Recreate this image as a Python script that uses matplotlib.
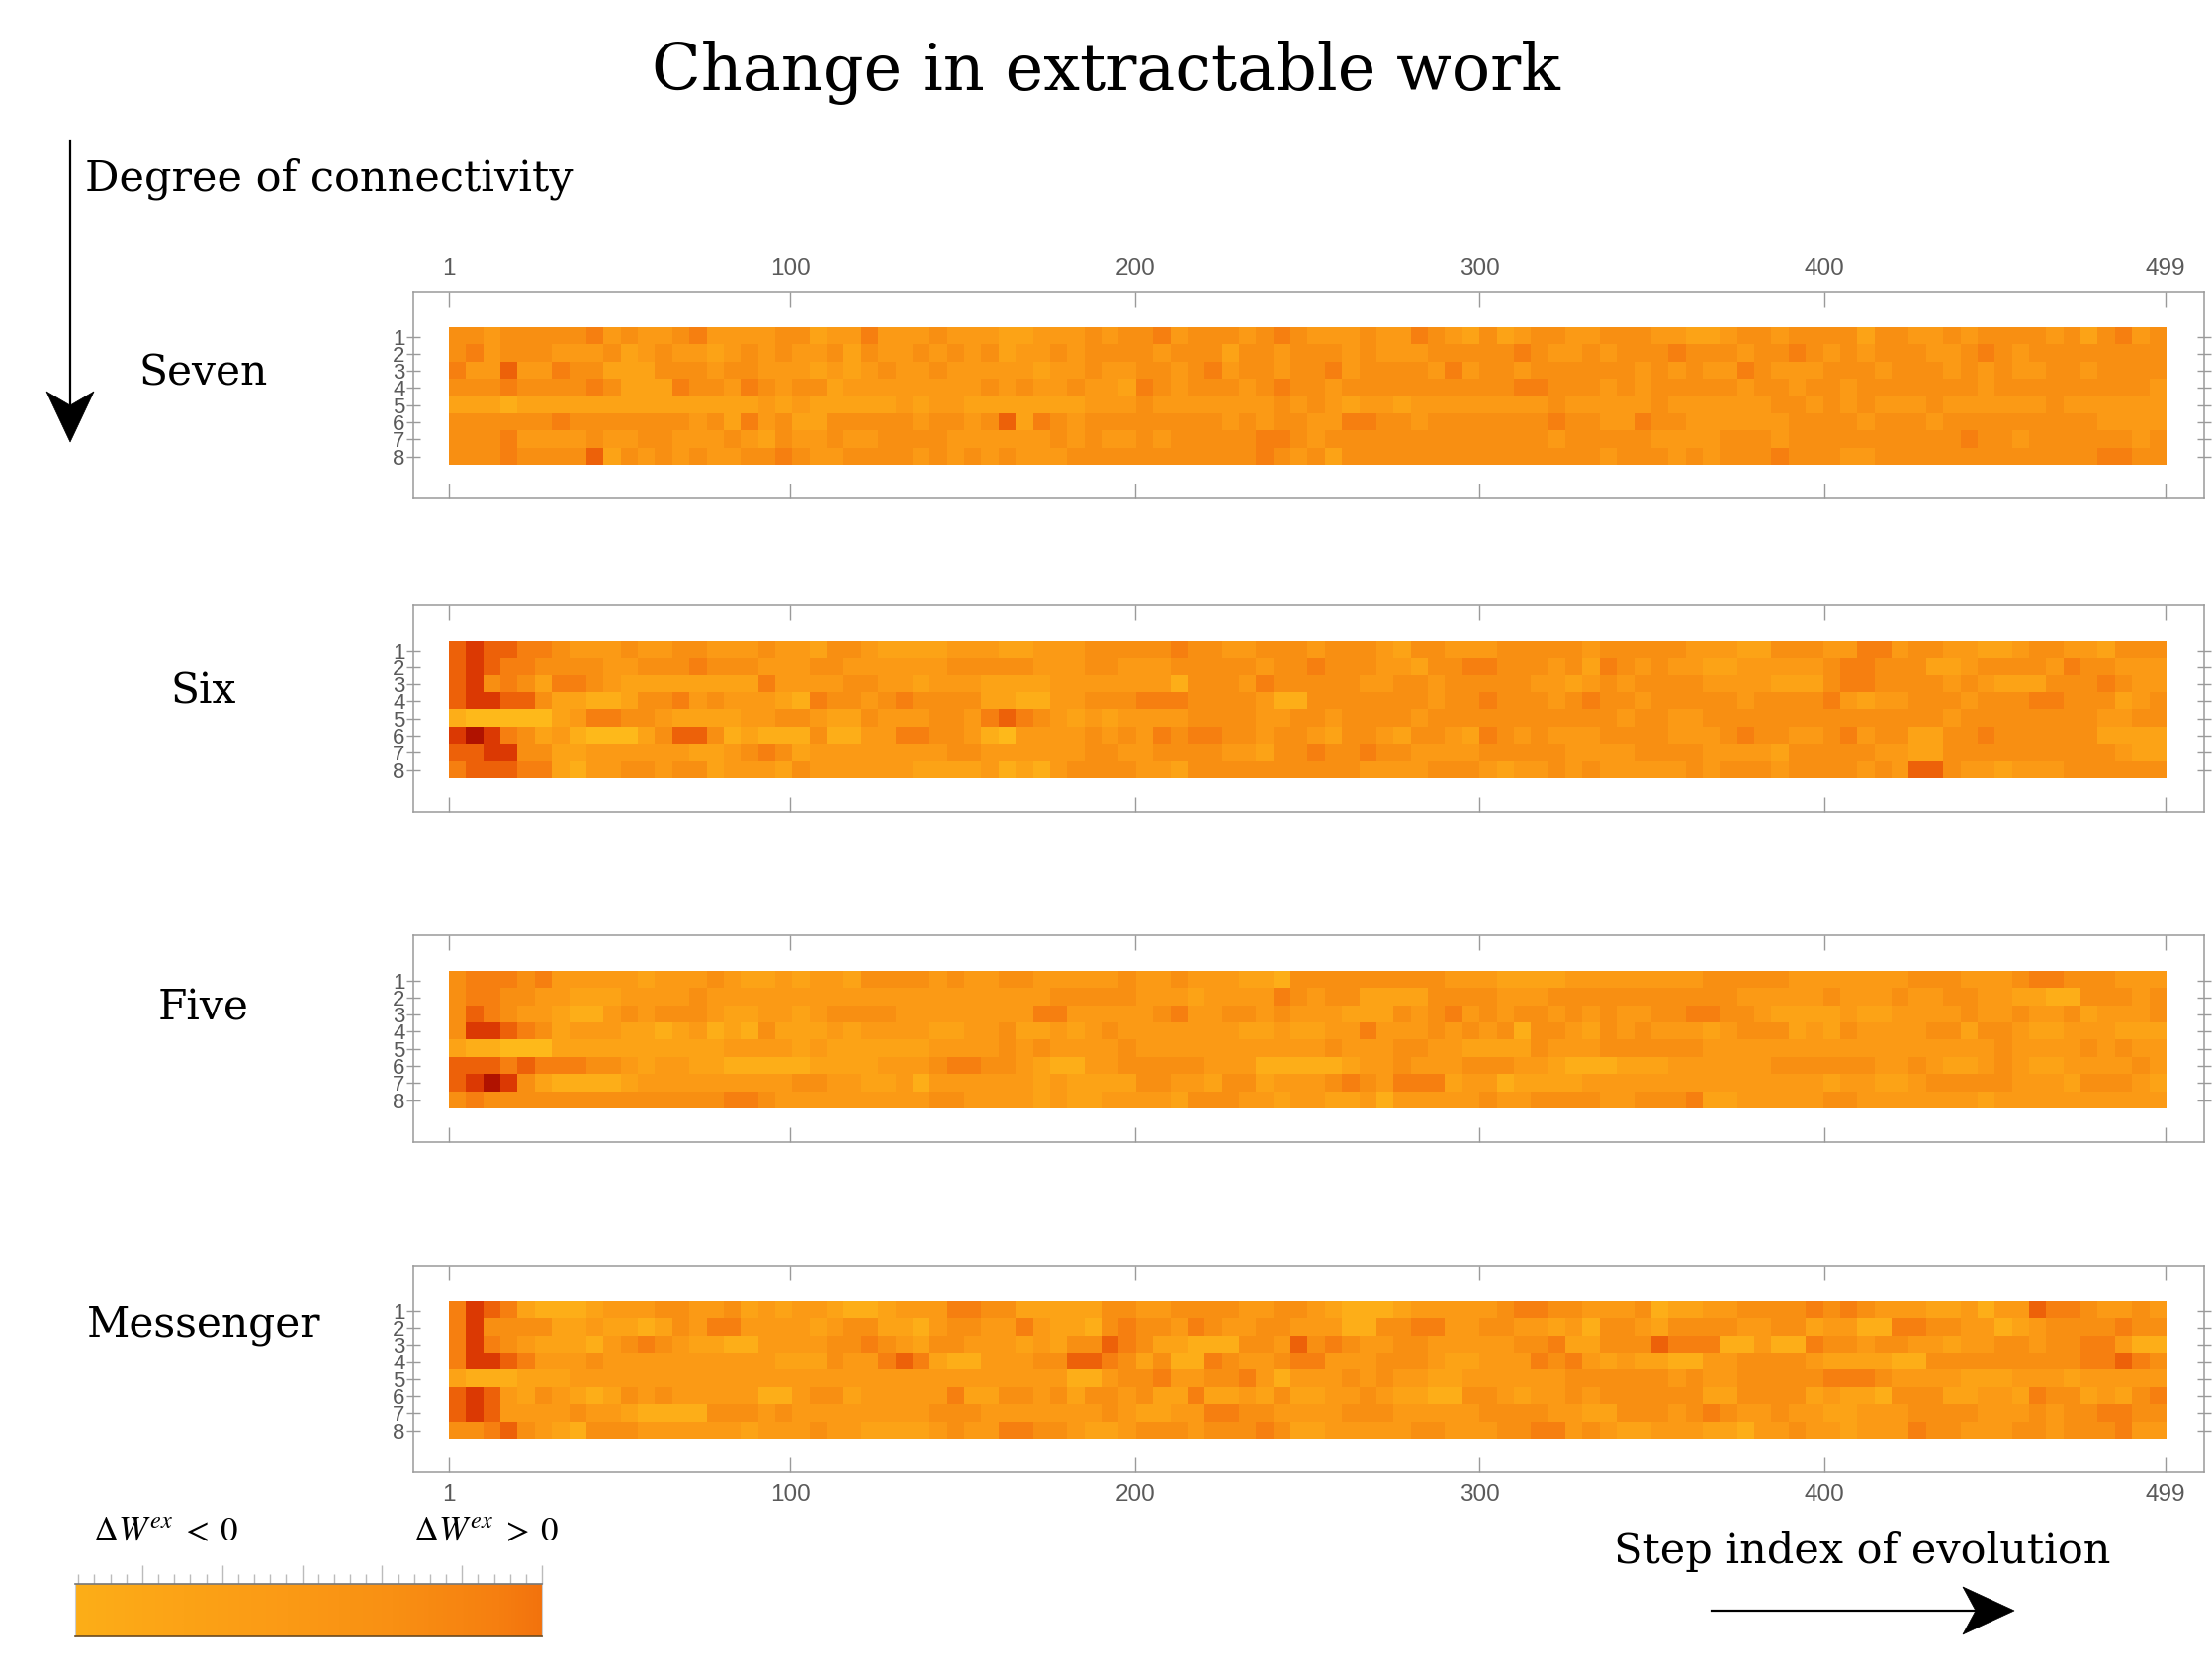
import numpy as np
import matplotlib
matplotlib.use("Agg")
import matplotlib.pyplot as plt
from matplotlib.colors import LinearSegmentedColormap
from matplotlib.patches import Polygon
from matplotlib.lines import Line2D

# ---------------- data (intensity levels 0..9) ----------------
panel_names = ["Seven", "Six", "Five", "Messenger"]
row_labels = [1, 2, 3, 4, 5, 6, 7, 8]
step_ticks = [1, 100, 200, 300, 400, 499]
n_steps_first, n_steps_last = 1, 499

seven = [
    "5545555564 5445644445 5344644454 4433444" + "5455645554 5654445446 5435345544 5554433455 4555535544 5455554535 645",
    "5645554445 3454434545 4453544545 4534454" + "5555455535 5455545444 5555565445 4555655545 5654545554 4565455555 555",
    "6447446553 3355545544 4343454454 4444344" + "5445545645 5455645555 4645545555 5545454465 4445554555 4545445545 555",
    "5556555565 3336554654 5534444444 4545445" + "4436545554 5655455555 5555566555 4545555545 5455455555 5545555555 554",
    "3332333333 3333333343 4333334344 3333333" + "4445444444 4545434434 4444444544 4445444444 5545454445 4444445444 444",
    "5555556555 5555453645 3355555455 4573654" + "5555555545 4554466554 5555555655 4465544444 4555545554 5555555554 444",
    "5556444454 4554445435 4454455554 4444454" + "5445455555 6654555555 5555555455 5554444555 4555555555 5655455555 545",
    "5556555573 5454544556 5445555454 5454445" + "5555555555 6545355555 5555555555 4555454555 6555445555 5555555556 655",
]
six = [
    "7877665444 5445544454 4355433334 4433444" + "5555565544 5554555435 5444555554 5555544433 5554466455 4433455443 555",
    "7876655554 4555655544 4554444445 5555444" + "5544455555 4556555443 5566555453 6545443344 4445665553 3455554655 444",
    "7856536654 3333333364 4445544344 4333344" + "4444425554 6555554455 4555554434 5455554444 3335665555 4543335556 544",
    "7887753322 3556454443 2655456555 5332244" + "5556665555 4225555555 4556555456 5545555545 5556434455 5455566555 345",
    "2111113466 5543333445 5433544455 4676543" + "4344445555 4455455554 5555555555 5455445555 5555555555 4555555554 455",
    "8986534211 1357752322 2522446655 4214444" + "5454656655 4554355435 5436545444 5555444565 5445645533 5565555553 333",
    "7788553344 4444334565 3444444445 5444444" + "5544555544 3556556554 4445555544 4455554444 3555554433 5555555555 433",
    "6777663244 5545534443 5444444333 3423245" + "5554435555 5555554444 5554344545 4444454555 4555545477 5443444555 555",
]
five = [
    "5666564444 4344454334 34435555" + "4544554444 4544544433 2555555555 4443333444 4444455555 4444444555 4445665554 44",
    "5665544333 4444544444 44444444" + "4444444555 5544434444 6545533335 5554445555 5555555444 4454445445 5443322555 45",
    "5765443224 5455543344 34555544" + "4444446644 4445644554 5444333545 6454554545 4455665543 3334334444 5445445344 45",
    "5887653444 3323423253 33434444" + "3344533434 5444444433 4334464445 4545255435 4544434555 3435444455 3554334443 33",
    "3221113333 3333334444 34333333" + "4444545444 4544444444 4445444554 4333354445 5555544444 4444444444 4454444545 44",
    "7776766655 4344332222 23333444" + "5665543224 4555554442 2222344544 4555443222 3334444445 5555544543 3454334444 54",
    "7898532222 3444444444 55443342" + "4444443433 3355443553 4445654666 3442333344 4444444444 4434433455 5554443555 43",
    "5655555555 5555556654 44444444" + "5544443433 4444355544 3443342444 4454455554 4555633444 4455444444 4344444444 44",
]
messenger = [
    "6876322234 4455445343 44322344" + "4665533333 5544555544 5543222344 4445665544 4523344555 5656544433 4244766544 54",
    "6855553343 3235466444 43455332" + "4554464332 5655465445 5444225566 4455443425 5435555445 5344226655 4423455556 55",
    "6865433324 5654332244 44556543" + "5544434355 7653322255 4756544554 4444556335 5576662242 2655455443 4455455664 22",
    "6887644454 4444444443 33544676" + "3224445577 6535226544 5664445554 3344465643 4332244555 5433332255 5555555667 65",
    "3222333444 4444444444 44444444" + "4444444422 4556445564 2444545443 3444444555 5554544555 5566654444 3334443444 44",
    "7874354323 5454444422 45534444" + "4633554535 5453363343 5334454332 2554344545 5555533555 5343325553 3443655343 56",
    "7874444544 3222255545 44444444" + "5554444444 5433446655 4444555444 4455554433 5554565445 4433444555 5444545566 55",
    "5567543255 5444444344 45443333" + "4544665543 3455545556 5334444455 4445566454 3344433244 5443444655 4445545556 44",
]
panels = [seven, six, five, messenger]


def to_array(rows):
    arr = []
    for r in rows:
        s = r.replace(" ", "")
        if len(s) != 100:
            raise ValueError(f"row length {len(s)}: {r}")
        arr.append([int(c) for c in s])
    return np.array(arr, dtype=float) / 9.0


# ---------------- style ----------------
W, H = 2237, 1691
fig = plt.figure(figsize=(W / 100, H / 100), dpi=100)
fig.patch.set_facecolor("white")
plt.rcParams["mathtext.fontset"] = "stix"

cmap = LinearSegmentedColormap.from_list(
    "solar",
    ["#FFC21E", "#FEB91A", "#FDAE18", "#FCA316", "#FB9A15",
     "#F99013", "#F67F10", "#EE620A", "#DC3A04", "#B01200"])

serif = "DejaVu Serif"
sans = "Liberation Sans"
frame_col = "#9a9a9a"
tick_col = "#5a5a5a"


def fx(px):
    return px / W


def fy(py):
    return 1 - py / H


axes_tops = [295, 612, 946, 1280]
ax_left, ax_right = 418, 2229
ax_h = 209
label_y = [378, 700, 1019, 1340]

for i, (rows, name) in enumerate(zip(panels, panel_names)):
    data = to_array(rows)
    top = axes_tops[i]
    ax = fig.add_axes([fx(ax_left), fy(top + ax_h), fx(ax_right) - fx(ax_left), ax_h / H])
    ax.imshow(data, cmap=cmap, vmin=0, vmax=1, aspect="auto",
              extent=(n_steps_first, n_steps_last, 8.5, 0.5), interpolation="nearest")
    ax.set_xlim(-9.3, 510.2)
    ax.set_ylim(10.45, -1.63)
    for sp in ax.spines.values():
        sp.set_color(frame_col)
        sp.set_linewidth(1.1)
    ax.set_xticks(step_ticks)
    ax.set_xticklabels([str(t) for t in step_ticks])
    ax.tick_params(axis="x", which="both", direction="in", length=11, width=1,
                   color=frame_col, top=True, bottom=True,
                   labeltop=(i == 0), labelbottom=(i == len(panels) - 1),
                   labelsize=17.5, labelcolor=tick_col, pad=9)
    for lab in ax.get_xticklabels():
        lab.set_fontfamily(sans)
    ax.set_yticks(row_labels)
    ax.set_yticklabels([str(r) for r in row_labels])
    ax.tick_params(axis="y", which="both", direction="inout", length=10, width=1,
                   color=frame_col, left=True, right=True, labelleft=True, labelright=False,
                   labelsize=16, labelcolor=tick_col, pad=1)
    for lab in ax.get_yticklabels():
        lab.set_fontfamily(sans)
    fig.text(fx(206), fy(label_y[i]), name, ha="center", va="center",
             fontsize=30.5, family=serif)

# title and axis captions
fig.text(0.5, fy(74), "Change in extractable work", ha="center", va="center",
         fontsize=47, family=serif)
fig.text(fx(86), fy(181), "Degree of connectivity", ha="left", va="center",
         fontsize=31, family=serif)
fig.text(fx(1883), fy(1569), "Step index of evolution", ha="center", va="center",
         fontsize=31, family=serif)

# arrows (figure pixel coords)
def add_line(p0, p1):
    fig.add_artist(Line2D([fx(p0[0]), fx(p1[0])], [fy(p0[1]), fy(p1[1])],
                          color="black", lw=1.6, transform=fig.transFigure))


def add_head(pts):
    fig.add_artist(Polygon([(fx(x), fy(y)) for x, y in pts], closed=True,
                           facecolor="black", edgecolor="black", lw=0.5,
                           transform=fig.transFigure))


add_line((71, 143), (71, 412))
add_head([(71, 447), (47, 396), (71, 410), (95, 396)])
add_line((1731, 1629), (2000, 1629))
add_head([(2037, 1629), (1985, 1605), (1998, 1629), (1985, 1653)])

# colour bar legend
cax = fig.add_axes([fx(76), fy(1655), fx(548) - fx(76), 53 / H])
grad = np.linspace(2.0 / 9, 6.4 / 9, 256)[None, :]
cax.imshow(grad, cmap=cmap, vmin=0, vmax=1, aspect="auto",
           extent=(-0.84, 5.0, 0, 1))
cax.set_xlim(-0.84, 5.0)
cax.set_ylim(0, 1)
cax.set_yticks([])
cax.set_xticks([0, 1, 2, 3, 4, 5])
cax.set_xticks(np.arange(-0.8, 5.01, 0.2), minor=True)
cax.tick_params(axis="x", which="major", direction="out", length=14, width=1,
                color="#bbbbbb", top=True, bottom=False, labeltop=False, labelbottom=False)
cax.tick_params(axis="x", which="minor", direction="out", length=7, width=1,
                color="#bbbbbb", top=True, bottom=False)
for k in ("left", "right"):
    cax.spines[k].set_color("#cccccc")
    cax.spines[k].set_linewidth(0.8)
cax.spines["top"].set_color("#777777")
cax.spines["bottom"].set_color("#6b4a20")
cax.spines["top"].set_linewidth(1.2)
cax.spines["bottom"].set_linewidth(1.2)

fig.text(fx(168), fy(1548), r"$\Delta W^{ex}\;<\;0$", ha="center", va="center", fontsize=25)
fig.text(fx(492), fy(1548), r"$\Delta W^{ex}\;>\;0$", ha="center", va="center", fontsize=25)

fig.savefig("out.png", dpi=100, facecolor="white")
